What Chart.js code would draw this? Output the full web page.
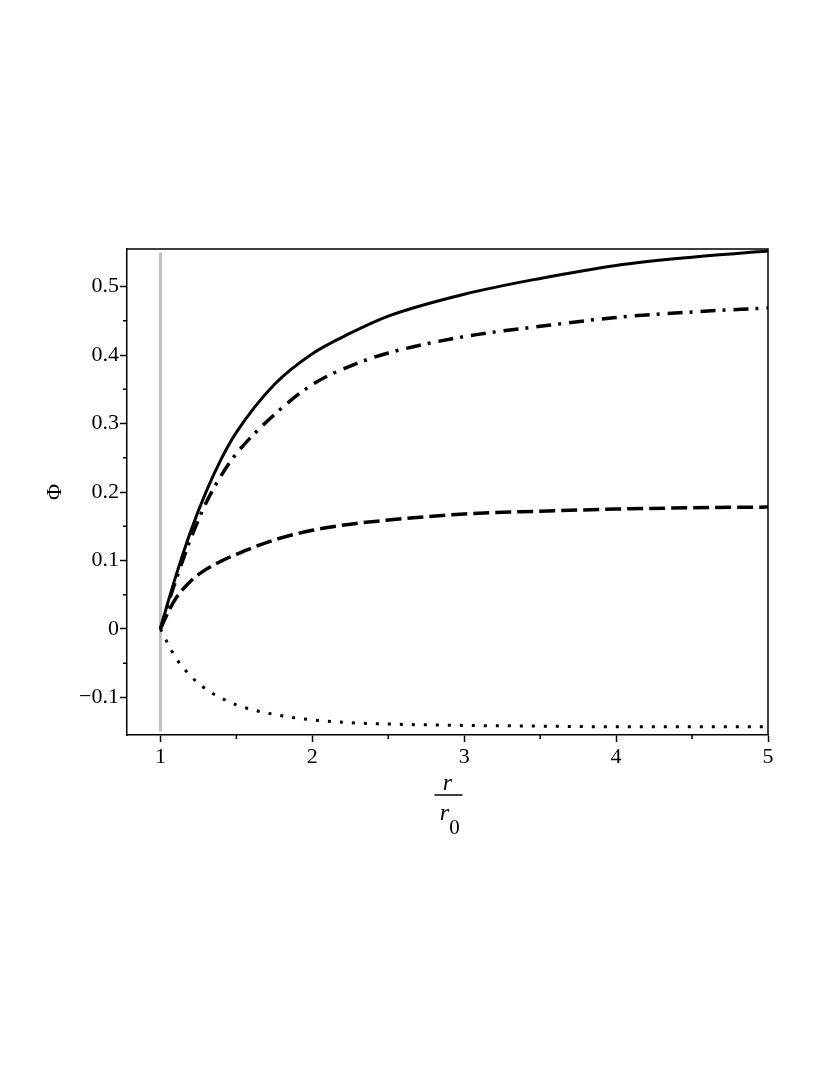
<!DOCTYPE html>
<html lang="en">
<head>
  <meta charset="UTF-8" />
  <title>Phi vs r/r0</title>
  <script src="https://cdn.jsdelivr.net/npm/chart.js"></script>
  <style>
    body { margin: 0; background: #fff; }
    #wrap { width: 830px; height: 1075px; }
  </style>
</head>
<body>
  <div id="wrap"><canvas id="grafico" width="830" height="1075"></canvas></div>

  <script>
    // r / r0 sample points (shared by all curves)
    const radios = [1, 1.05, 1.1, 1.2, 1.3, 1.4, 1.5, 1.75, 2, 2.25, 2.5, 3, 3.5, 4, 4.5, 5];

    const phiSolida    = [0, 0.039, 0.076, 0.143, 0.200, 0.248, 0.287, 0.357, 0.402, 0.432, 0.457, 0.489, 0.512, 0.531, 0.543, 0.552];
    const phiPuntoRaya = [0, 0.036, 0.070, 0.132, 0.184, 0.224, 0.256, 0.313, 0.357, 0.384, 0.403, 0.427, 0.442, 0.455, 0.463, 0.469];
    const phiRayas     = [0, 0.024, 0.044, 0.070, 0.087, 0.099, 0.109, 0.130, 0.144, 0.153, 0.159, 0.168, 0.172, 0.175, 0.177, 0.178];
    const phiPuntos    = [0, -0.022, -0.042, -0.069, -0.088, -0.101, -0.111, -0.125, -0.133, -0.137, -0.139, -0.141, -0.142, -0.143, -0.143, -0.143];

    // vertical grey marker at r = r0
    const marcaX = [1, 1];
    const marcaY = [-0.15, 0.55];

    const ticksX = [1, 2, 3, 4, 5];
    const ticksY = [-0.1, 0, 0.1, 0.2, 0.3, 0.4, 0.5];
    const menoresX = [1.5, 2.5, 3.5, 4.5];
    const menoresY = [-0.05, 0.05, 0.15, 0.25, 0.35, 0.45];

    const serif = "'Liberation Serif', 'DejaVu Serif', serif";

    function puntos(ys) {
      return radios.map((x, i) => ({ x: x, y: ys[i] }));
    }

    function curva(ys, dash, ancho) {
      return {
        data: puntos(ys),
        borderColor: "#000",
        borderWidth: ancho,
        borderDash: dash,
        borderCapStyle: "butt",
        pointRadius: 0,
        fill: false,
        cubicInterpolationMode: "monotone"
      };
    }

    const extras = {
      id: "extras",
      afterDraw(chart) {
        const ctx = chart.ctx;
        const a = chart.chartArea;
        const sx = chart.scales.x;
        const sy = chart.scales.y;
        ctx.save();
        ctx.strokeStyle = "#000";
        ctx.lineWidth = 1.5;
        // top and right frame
        ctx.beginPath();
        ctx.moveTo(a.left, a.top);
        ctx.lineTo(a.right, a.top);
        ctx.lineTo(a.right, a.bottom);
        ctx.stroke();
        // minor ticks
        ctx.beginPath();
        menoresX.forEach(v => {
          const px = sx.getPixelForValue(v);
          ctx.moveTo(px, a.bottom);
          ctx.lineTo(px, a.bottom + 4);
        });
        menoresY.forEach(v => {
          const py = sy.getPixelForValue(v);
          ctx.moveTo(a.left, py);
          ctx.lineTo(a.left - 4, py);
        });
        ctx.stroke();

        // x title: r / r0
        const cx = (a.left + a.right) / 2;
        ctx.fillStyle = "#000";
        ctx.textAlign = "center";
        ctx.textBaseline = "alphabetic";
        ctx.font = "italic 24px " + serif;
        ctx.fillText("r", cx, a.bottom + 55);
        ctx.lineWidth = 1.5;
        ctx.beginPath();
        ctx.moveTo(cx - 13, a.bottom + 60);
        ctx.lineTo(cx + 15, a.bottom + 60);
        ctx.stroke();
        ctx.fillText("r", cx - 3, a.bottom + 85);
        ctx.font = "21px " + serif;
        ctx.fillText("0", cx + 7, a.bottom + 99);
        ctx.restore();
      }
    };

    new Chart(document.getElementById("grafico"), {
      type: "line",
      data: {
        datasets: [
          curva(phiSolida, [], 3),
          curva(phiPuntoRaya, [15, 7, 3, 8], 3.5),
          curva(phiRayas, [16, 6], 3.5),
          curva(phiPuntos, [3, 9], 3),
          {
            data: marcaX.map((x, i) => ({ x: x, y: marcaY[i] })),
            borderColor: "#c0c0c0",
            borderWidth: 3,
            pointRadius: 0,
            fill: false
          }
        ]
      },
      options: {
        responsive: false,
        animation: false,
        events: [],
        layout: { padding: { left: 42, top: 249, right: 62, bottom: 300 } },
        plugins: { legend: { display: false }, tooltip: { enabled: false } },
        scales: {
          x: {
            type: "linear",
            min: 0.78,
            max: 5,
            afterBuildTicks: s => { s.ticks = ticksX.map(v => ({ value: v })); },
            afterFit: s => { s.height = 40; },
            border: { color: "#000", width: 1.5 },
            grid: { drawOnChartArea: false, tickLength: 7, tickColor: "#000", tickWidth: 1.5 },
            ticks: {
              color: "#000",
              padding: 2,
              maxRotation: 0,
              font: { family: serif, size: 22 },
              callback: v => String(v)
            }
          },
          y: {
            type: "linear",
            min: -0.155,
            max: 0.555,
            afterBuildTicks: s => { s.ticks = ticksY.map(v => ({ value: v })); },
            afterFit: s => { s.width = 85; },
            border: { color: "#000", width: 1.5 },
            grid: { drawOnChartArea: false, tickLength: 7, tickColor: "#000", tickWidth: 1.5 },
            title: {
              display: true,
              text: "Φ",
              color: "#000",
              padding: 0,
              font: { family: serif, size: 22 }
            },
            ticks: {
              color: "#000",
              padding: 1,
              font: { family: serif, size: 22 },
              callback: v => {
                const r = Math.round(v * 10) / 10;
                if (r === 0) return "0";
                return (r < 0 ? "\u2212" : "") + Math.abs(r).toFixed(1);
              }
            }
          }
        }
      },
      plugins: [extras]
    });
  </script>
</body>
</html>
